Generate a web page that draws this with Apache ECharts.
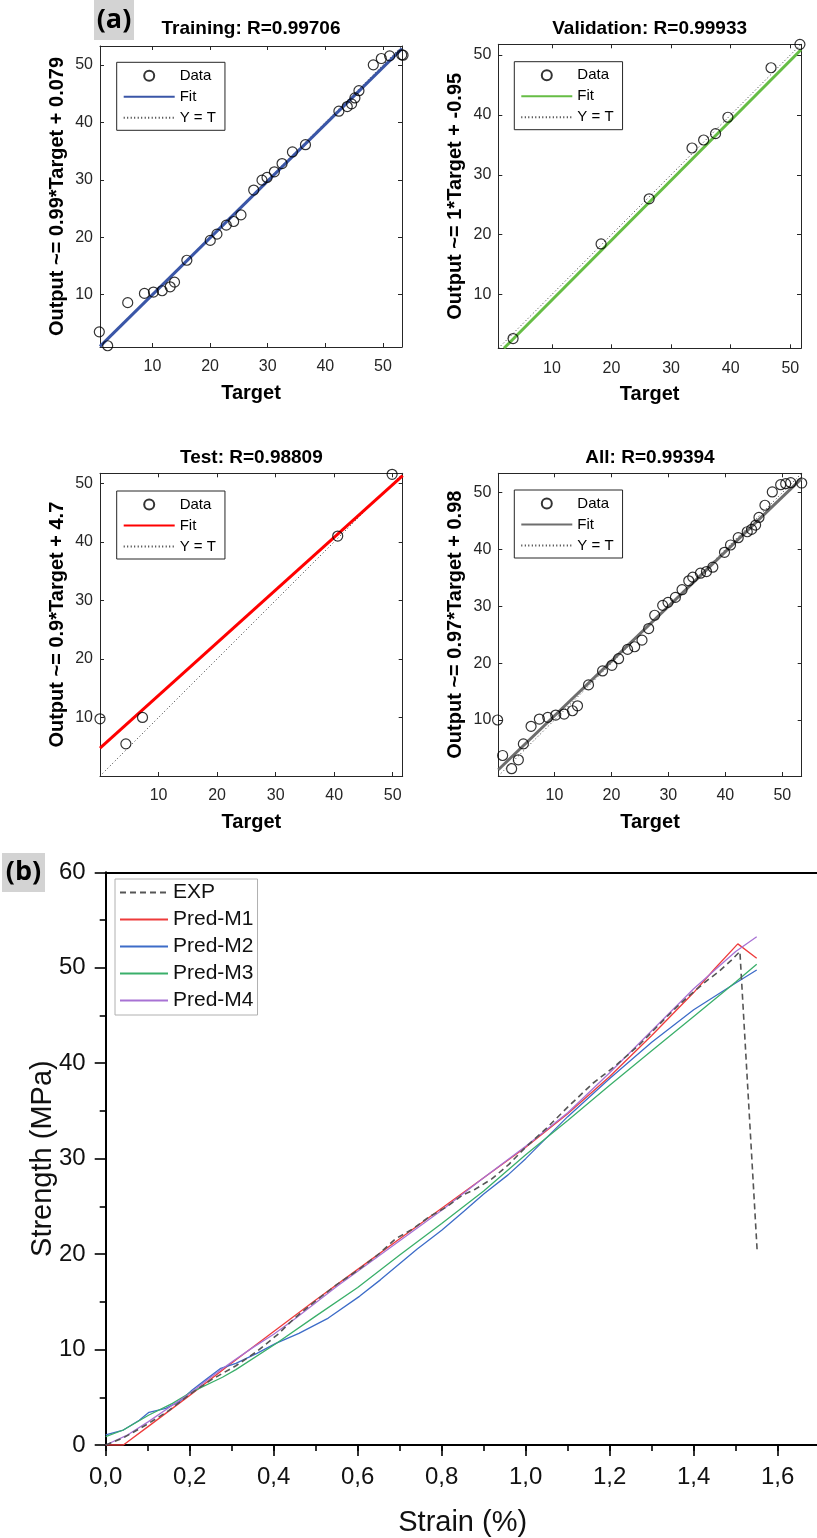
<!DOCTYPE html>
<html><head><meta charset="utf-8">
<script src="https://cdn.jsdelivr.net/npm/echarts@6/dist/echarts.min.js"></script>
<style>html,body{margin:0;padding:0;background:#fff}#c{width:817px;height:1538px}</style>
</head><body><div id="c"></div>
<script>
// ---------------- DATA (panel a) ----------------
const regTicks = [10, 20, 30, 40, 50];

const trainTitle = 'Training: R=0.99706';
const trainYName = 'Output ~= 0.99*Target + 0.079';
const trainTarget = [0.78,2.23,5.71,8.61,10.17,11.68,13.07,13.83,15.97,20.03,21.19,22.81,24.09,25.36,27.57,29.01,29.88,31.16,32.49,34.29,36.55,42.35,43.8,44.55,45.13,45.83,48.32,49.71,51.16,53.48,53.25];
const trainOutput = [3.54,1.12,8.62,10.23,10.46,10.69,11.38,12.19,16.0,19.46,20.55,22.11,22.75,23.9,28.22,29.95,30.42,31.4,32.84,34.86,36.12,41.95,42.76,43.22,44.26,45.52,50.02,51.12,51.58,51.7,51.75];
const trainLim = [0.9, 53.3];
const trainFit = [[0.9, 1.0], [53.3, 52.85]];

const valTitle = 'Validation: R=0.99933';
const valYName = 'Output ~= 1*Target + -0.95';
const valTarget = [3.48,18.25,26.32,33.51,35.46,37.46,39.53,46.77,51.62];
const valOutput = [2.63,18.44,25.98,34.47,35.81,36.87,39.61,47.88,51.79];
const valLim = [1.0, 51.8];
const valFit = [[1.95, 1.0], [51.8, 50.9]];

const testTitle = 'Test: R=0.98809';
const testYName = 'Output ~= 0.9*Target + 4.7';
const testTarget = [0.0,4.42,7.26,40.6,49.89];
const testOutput = [9.77,5.49,10.0,40.98,51.53];
const testLim = [0.0, 51.7];
const testFit = [[0.0, 4.75], [51.7, 51.3]];

const allTitle = 'All: R=0.99394';
const allYName = 'Output ~= 0.97*Target + 0.98';
const allTarget = [0.03,0.91,2.49,3.67,4.55,5.9,7.36,8.83,10.23,11.7,13.17,14.05,15.98,18.45,20.09,21.26,22.84,24.08,25.37,26.54,27.6,29.0,29.94,31.23,32.4,33.58,34.28,35.63,36.69,37.8,39.85,40.91,42.26,43.84,44.6,45.31,45.9,46.95,48.24,49.71,50.59,51.47,53.4];
const allOutput = [10.0,3.76,1.43,3.0,5.8,8.89,10.17,10.47,10.87,11.05,11.63,12.5,16.18,18.63,19.62,20.79,22.42,22.89,24.05,26.09,28.43,30.17,30.7,31.57,32.92,34.49,35.13,35.83,36.12,36.88,39.5,40.79,42.07,43.12,43.53,44.29,45.63,47.78,50.12,51.4,51.57,51.75,51.69];
const allLim = [0.15, 53.4];
const allFit = [[0.15, 1.25], [53.4, 52.5]];

// ---------------- DATA (panel b) ----------------
const expStrain = [0,0.04,0.1,0.15,0.2,0.25,0.31,0.36,0.41,0.45,0.5,0.55,0.6,0.65,0.69,0.73,0.77,0.81,0.85,0.88,0.92,0.96,1.0,1.05,1.1,1.16,1.21,1.27,1.33,1.36,1.39,1.43,1.46,1.49,1.51,1.551];
const expStrength = [0,0.7,2.2,3.6,5.3,6.8,8.3,9.8,11.6,13.3,15.1,16.8,18.3,20.0,21.6,22.6,23.9,24.9,26.2,26.8,27.9,29.4,31.2,33.2,35.4,37.9,39.6,41.9,44.6,45.9,47.1,48.6,49.6,50.8,51.7,20.4];
const m1Strain = [0,0.042,0.1,0.2,0.3,0.4,0.5,0.6,0.7,0.8,0.9,1.0,1.1,1.2,1.3,1.4,1.45,1.505,1.55];
const m1Strength = [0,0,1.9,5.2,8.6,11.9,15.2,18.4,21.6,24.8,28.0,31.2,34.7,38.6,42.9,47.4,49.9,52.5,51.0];
const m2Strain = [0,0.042,0.08,0.103,0.143,0.175,0.206,0.24,0.274,0.31,0.36,0.405,0.46,0.53,0.605,0.654,0.741,0.8,0.853,0.9,0.958,1.0,1.1,1.2,1.3,1.4,1.5,1.55];
const m2Strength = [1.05,1.57,2.6,3.42,3.84,4.54,5.76,6.9,8.03,8.56,9.6,10.65,11.7,13.3,15.6,17.3,20.5,22.5,24.5,26.3,28.3,30.0,34.4,38.4,42.2,45.6,48.4,49.76];
const m3Strain = [0,0.042,0.103,0.159,0.198,0.278,0.31,0.405,0.5,0.6,0.7,0.8,0.9,1.0,1.1,1.2,1.3,1.4,1.5,1.55];
const m3Strength = [0.87,1.57,3.14,4.36,5.4,7.1,7.9,10.6,13.5,16.5,19.9,23.2,26.6,30.4,34.0,37.7,41.3,44.9,48.5,50.36];
const m4Strain = [0,0.05,0.1,0.15,0.2,0.25,0.3,0.35,0.4,0.45,0.5,0.55,0.6,0.7,0.8,0.9,1.0,1.1,1.2,1.3,1.4,1.5,1.55];
const m4Strength = [0,1.0,2.4,3.9,5.4,7.1,8.7,10.2,11.6,13.2,14.9,16.6,18.2,21.4,24.6,28.0,31.3,34.8,39.0,43.4,47.8,51.7,53.25];
const bSeriesNames = ['EXP','Pred-M1','Pred-M2','Pred-M3','Pred-M4'];

// ---------------- BUILD ----------------
const FONT = "'Liberation Sans', Arial, Helvetica, sans-serif";
const zip = (a, b) => a.map((v, i) => [v, b[i]]);

const panels = [
  {title: trainTitle, yName: trainYName, t: trainTarget, o: trainOutput, lim: trainLim, fit: trainFit, color: '#3A56A7'},
  {title: valTitle, yName: valYName, t: valTarget, o: valOutput, lim: valLim, fit: valFit, color: '#66BD45'},
  {title: testTitle, yName: testYName, t: testTarget, o: testOutput, lim: testLim, fit: testFit, color: '#FF0000'},
  {title: allTitle, yName: allYName, t: allTarget, o: allOutput, lim: allLim, fit: allFit, color: '#6E6E6E'}
];
const layouts = [
  {left: 100, top: 46, width: 302, height: 301, titleY: 29, lg: [116.7, 62.3]},
  {left: 498.3, top: 44.3, width: 302.7, height: 304, titleY: 28.7, lg: [514.3, 61.7]},
  {left: 100, top: 473.3, width: 302.7, height: 302.7, titleY: 457.7, lg: [116.7, 491]},
  {left: 498.3, top: 473.3, width: 303.4, height: 302.7, titleY: 457.3, lg: [514.3, 490]}
];

const option = {animation: false, backgroundColor: '#fff', grid: [], xAxis: [], yAxis: [], legend: [], series: [], graphic: []};
const axCol = '#262626';
const noSym = {opacity: 0};

panels.forEach((p, i) => {
  const L = layouts[i];
  option.grid.push({left: L.left, top: L.top, width: L.width, height: L.height, containLabel: false, outerBoundsMode: 'none'});
  const base = {type: 'value', gridIndex: i, min: p.lim[0], max: p.lim[1], splitLine: {show: false},
    axisLine: {show: true, onZero: false, lineStyle: {color: axCol, width: 1}},
    axisTick: {show: true, inside: true, length: 4, customValues: regTicks, lineStyle: {color: axCol, width: 1}}};
  option.xAxis.push(Object.assign({}, base, {position: 'bottom',
    axisLabel: {show: true, customValues: regTicks, margin: 12, fontSize: 16, color: axCol, fontFamily: FONT},
    name: 'Target', nameLocation: 'middle', nameGap: 36,
    nameTextStyle: {fontFamily: FONT, fontWeight: 'bold', fontSize: 20, color: '#000'}}));
  option.xAxis.push(Object.assign({}, base, {position: 'top', axisLabel: {show: false}}));
  option.yAxis.push(Object.assign({}, base, {position: 'left',
    axisLabel: {show: true, customValues: regTicks, margin: 7, fontSize: 16, color: axCol, fontFamily: FONT},
    name: p.yName, nameLocation: 'middle', nameGap: 33, nameRotate: 90,
    nameTextStyle: {fontFamily: FONT, fontWeight: 'bold', fontSize: 20, color: '#000'}}));
  option.yAxis.push(Object.assign({}, base, {position: 'right', axisLabel: {show: false}}));

  const ax = {xAxisIndex: 2 * i, yAxisIndex: 2 * i};
  option.series.push(Object.assign({type: 'line', name: 'Y = T#' + i, data: [[p.lim[0], p.lim[0]], [p.lim[1], p.lim[1]]],
    symbol: 'none', z: 2, lineStyle: {type: [1, 2.5], color: '#333', width: 1}}, ax));
  option.series.push(Object.assign({type: 'line', name: 'Fit#' + i, data: p.fit,
    symbol: 'none', z: 3, lineStyle: {color: p.color, width: 3}}, ax));
  option.series.push(Object.assign({type: 'scatter', name: 'Data#' + i, data: zip(p.t, p.o),
    symbol: 'circle', symbolSize: 10, clip: false, z: 4,
    itemStyle: {color: 'rgba(0,0,0,0)', borderColor: '#000', borderWidth: 1.2}}, ax));

  option.legend.push({orient: 'vertical', left: L.lg[0], top: L.lg[1],
    data: [{name: 'Data#' + i}, {name: 'Fit#' + i, itemStyle: noSym}, {name: 'Y = T#' + i, itemStyle: noSym}],
    formatter: n => n.split('#')[0], itemWidth: 51, itemHeight: 10, itemGap: 6, padding: [6, 9, 5, 6],
    backgroundColor: '#fff', borderColor: axCol, borderWidth: 1, selectedMode: false,
    textStyle: {fontFamily: FONT, fontSize: 15, color: '#000'}});

  option.graphic.push({type: 'text', x: L.left + L.width / 2, y: L.titleY, silent: true,
    style: {text: p.title, font: 'bold 19px ' + FONT, fill: '#000', align: 'center', verticalAlign: 'middle',
      textAlign: 'center', textVerticalAlign: 'middle'}});
});

// ---------------- panel b ----------------
const gB = 4;
const bMax = 1.7;
option.grid.push({left: 105.7, top: 872.3, width: 714, height: 572.7, containLabel: false, outerBoundsMode: 'none'});
const bLine = {color: '#000', width: 2};
option.xAxis.push({type: 'value', gridIndex: gB, min: 0, max: bMax, interval: 0.2, position: 'bottom',
  axisLine: {show: true, onZero: false, lineStyle: bLine},
  axisTick: {show: true, inside: false, length: 11, lineStyle: {color: '#000', width: 1.6}},
  splitLine: {show: false},
  axisLabel: {margin: 20, fontSize: 24, color: '#111', fontFamily: FONT, showMaxLabel: false,
    formatter: v => v.toFixed(1).replace('.', ',')},
  name: 'Strain (%)', nameLocation: 'middle', nameGap: 63,
  nameTextStyle: {fontFamily: FONT, fontSize: 29, color: '#111'}});
option.xAxis.push({type: 'value', gridIndex: gB, min: 0, max: bMax, position: 'top',
  axisLine: {show: true, onZero: false, lineStyle: bLine}, axisTick: {show: false}, axisLabel: {show: false}, splitLine: {show: false}});
// minor ticks of the strain axis
option.xAxis.push({type: 'value', gridIndex: gB, min: 0, max: bMax, interval: 0.1, position: 'bottom',
  axisLine: {show: false, onZero: false}, axisTick: {show: true, inside: false, length: 6, lineStyle: {color: '#000', width: 1.6}},
  axisLabel: {show: false}, splitLine: {show: false}});
option.yAxis.push({type: 'value', gridIndex: gB, min: 0, max: 60, interval: 10, position: 'left',
  axisLine: {show: true, onZero: false, lineStyle: bLine},
  axisTick: {show: true, inside: false, length: 11, lineStyle: {color: '#000', width: 1.6}},
  minorTick: {show: true, splitNumber: 2, length: 6, lineStyle: {color: '#000', width: 1.6}},
  splitLine: {show: false},
  axisLabel: {margin: 20, fontSize: 24, color: '#111', fontFamily: FONT},
  name: 'Strength (MPa)', nameLocation: 'middle', nameGap: 48, nameRotate: 90, nameMoveOverlap: false,
  nameTextStyle: {fontFamily: FONT, fontSize: 29, color: '#111'}});

const bData = [zip(expStrain, expStrength), zip(m1Strain, m1Strength), zip(m2Strain, m2Strength), zip(m3Strain, m3Strength), zip(m4Strain, m4Strength)];
const bColors = ['#555555', '#EE3B3B', '#3D6CC8', '#3AAF6A', '#A872D4'];
bSeriesNames.forEach((n, k) => {
  option.series.push({type: 'line', name: n, xAxisIndex: 8, yAxisIndex: 8, data: bData[k], symbol: 'none',
    z: k === 0 ? 10 : 5 + k, color: bColors[k],
    lineStyle: {color: bColors[k], width: k === 0 ? 1.6 : 1.3, type: k === 0 ? [6, 4] : 'solid'}});
});
option.legend.push({orient: 'vertical', left: 115, top: 879, data: bSeriesNames.map(n => ({name: n, itemStyle: noSym})),
  itemWidth: 48, itemHeight: 10, itemGap: 6,
  padding: [3, 4, 4, 4], backgroundColor: '#fff', borderColor: '#b0b0b0', borderWidth: 1, selectedMode: false,
  textStyle: {fontFamily: FONT, fontSize: 21, color: '#111'}});

// panel labels
option.graphic.push({type: 'rect', silent: true, shape: {x: 94, y: 0, width: 40, height: 40}, style: {fill: '#d3d3d3'}});
option.graphic.push({type: 'text', silent: true, x: 114, y: 20,
  style: {text: '(a)', font: "bold 27px 'Open Sans', sans-serif", fill: '#000', align: 'center', verticalAlign: 'middle', textAlign: 'center', textVerticalAlign: 'middle'}});
option.graphic.push({type: 'rect', silent: true, shape: {x: 2, y: 853, width: 43, height: 39}, style: {fill: '#d3d3d3'}});
option.graphic.push({type: 'text', silent: true, x: 23.5, y: 872.5,
  style: {text: '(b)', font: "bold 27px 'Open Sans', sans-serif", fill: '#000', align: 'center', verticalAlign: 'middle', textAlign: 'center', textVerticalAlign: 'middle'}});

const chart = echarts.init(document.getElementById('c'), null, {renderer: 'canvas'});
chart.setOption(option);
</script></body></html>
